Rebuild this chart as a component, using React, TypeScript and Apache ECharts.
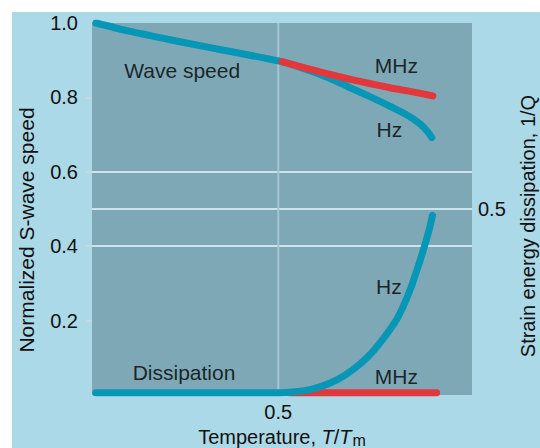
import React, { useEffect, useRef } from "react";
import * as echarts from "echarts";

// ---- data ----
const refLineX: number[][] = [[0.5, 0], [0.5, 1]];
const hzWave: number[][] = [
  [0.01, 1.0], [0.1, 0.978], [0.2, 0.957], [0.3, 0.937], [0.4, 0.918], [0.5, 0.898],
  [0.55, 0.884], [0.6, 0.866], [0.65, 0.846], [0.7, 0.823], [0.746, 0.802], [0.8, 0.776],
  [0.85, 0.75], [0.88, 0.729], [0.9, 0.709], [0.912, 0.692],
];
const mhzWave: number[][] = [
  [0.51, 0.896], [0.6, 0.872], [0.7, 0.847], [0.8, 0.826], [0.86, 0.815], [0.915, 0.804],
];
const hzDiss: number[][] = [
  [0.01, 0.006], [0.5, 0.006], [0.566, 0.011], [0.612, 0.022], [0.66, 0.042], [0.7, 0.068],
  [0.74, 0.102], [0.773, 0.14], [0.819, 0.205], [0.853, 0.28], [0.88, 0.36], [0.894, 0.405],
  [0.907, 0.452], [0.914, 0.483],
];
const mhzDiss: number[][] = [[0.53, 0.006], [0.925, 0.006]];
const annotations: { name: string; value: number[] }[] = [
  { name: "Wave speed", value: [0.242, 0.871] },
  { name: "MHz", value: [0.817, 0.886] },
  { name: "Hz", value: [0.798, 0.713] },
  { name: "Hz", value: [0.797, 0.291] },
  { name: "MHz", value: [0.817, 0.049] },
  { name: "Dissipation", value: [0.247, 0.06] },
];
const leftTicks = [0.2, 0.4, 0.6, 0.8, 1.0];
const rightTicks = [0.5];
const xTicks = [0.5];

const FONT = "'Liberation Sans', Arial, Helvetica, sans-serif";
const TEAL = "#0697b6";
const RED = "#e2383c";

export default function App() {
  const ref = useRef<HTMLDivElement>(null);
  useEffect(() => {
    if (!ref.current) return;
    const chart = echarts.init(ref.current, undefined, { renderer: "svg" });
    const lineBase = (data: number[][], color: string, yAxisIndex = 0) => ({
      type: "line",
      data,
      yAxisIndex,
      symbol: "none",
      smooth: 0.25,
      silent: true,
      lineStyle: { color, width: 7, cap: "round", join: "round" },
    });
    const gridLine = {
      show: true,
      showMinLine: false,
      showMaxLine: false,
      lineStyle: { color: "#cde3ec", width: 2 },
    };
    chart.setOption({
      animation: false,
      backgroundColor: "#acd9e7",
      textStyle: { fontFamily: FONT },
      grid: {
        left: 80,
        top: 11,
        right: 68,
        bottom: 53,
        show: true,
        backgroundColor: "#7ea8b5",
        borderWidth: 0,
        outerBoundsMode: "none",
        containLabel: false,
      },
      xAxis: {
        type: "value",
        min: 0,
        max: 1.02,
        interval: 0.5,
        axisLine: { show: false },
        axisTick: { show: false },
        splitLine: { show: false },
        axisLabel: {
          customValues: xTicks,
          formatter: (v: number) => (Math.abs(v - 0.5) < 1e-6 ? "0.5" : ""),
          fontSize: 20,
          color: "#111",
          fontFamily: FONT,
          margin: 7,
        },
        name: "{a|Temperature, }{i|T}{a|/}{i|T}{s|m}",
        nameLocation: "middle",
        nameGap: 23,
        nameTextStyle: {
          rich: {
            a: { fontSize: 20, color: "#111", fontFamily: FONT, lineHeight: 21, verticalAlign: "top" },
            i: { fontSize: 20, color: "#111", fontFamily: FONT, fontStyle: "italic", lineHeight: 21, verticalAlign: "top" },
            s: { fontSize: 16, color: "#111", fontFamily: FONT, lineHeight: 16, padding: [6, 0, 0, 1], verticalAlign: "top" },
          },
        },
      },
      yAxis: [
        {
          type: "value",
          min: 0,
          max: 1,
          interval: 0.2,
          z: 1,
          axisLine: { show: false },
          axisTick: {
            show: true,
            length: 6,
            customValues: [0.2, 0.4, 0.6, 0.8],
            lineStyle: { color: "#c3d8df", width: 2 },
          },
          splitLine: gridLine,
          axisLabel: {
            customValues: leftTicks,
            formatter: (v: number) => (v < 0.01 ? "" : v.toFixed(1)),
            fontSize: 20,
            color: "#111",
            fontFamily: FONT,
            margin: 14,
          },
          name: "Normalized S-wave speed",
          nameLocation: "middle",
          nameGap: 55,
          nameTextStyle: { fontSize: 21, color: "#111", fontFamily: FONT, padding: [0, 42, 0, 0] },
        },
        {
          type: "value",
          min: 0,
          max: 1,
          interval: 0.5,
          z: 1,
          position: "right",
          axisLine: { show: false },
          axisTick: { show: false },
          splitLine: gridLine,
          axisLabel: {
            customValues: rightTicks,
            formatter: (v: number) => (Math.abs(v - 0.5) < 1e-6 ? "0.5" : ""),
            fontSize: 20,
            color: "#111",
            fontFamily: FONT,
            margin: 6,
          },
          name: "Strain energy dissipation, 1/Q",
          nameLocation: "middle",
          nameGap: 46,
          nameTextStyle: { fontSize: 20, color: "#111", fontFamily: FONT, padding: [0, 34, 0, 0] },
        },
      ],
      series: [
        {
          type: "line",
          data: refLineX,
          symbol: "none",
          silent: true,
          lineStyle: { color: "#a4c6d1", width: 2 },
        },
        lineBase(mhzDiss, RED, 1),
        lineBase(hzDiss, TEAL, 1),
        lineBase(hzWave, TEAL, 0),
        lineBase(mhzWave, RED, 0),
        {
          type: "scatter",
          data: annotations,
          symbolSize: 1,
          itemStyle: { color: "rgba(0,0,0,0)" },
          silent: true,
          z: 10,
          label: {
            show: true,
            position: "inside",
            formatter: "{b}",
            fontSize: 21,
            color: "#000",
            textBorderWidth: 0,
            fontFamily: FONT,
          },
        },
      ],
    });
    return () => chart.dispose();
  }, []);
  return (
    <div style={{ position: "absolute", left: 0, top: 0, width: 540, height: 448, background: "#fff" }}>
      <div ref={ref} style={{ position: "absolute", left: 12, top: 12, width: 528, height: 436 }} />
    </div>
  );
}
